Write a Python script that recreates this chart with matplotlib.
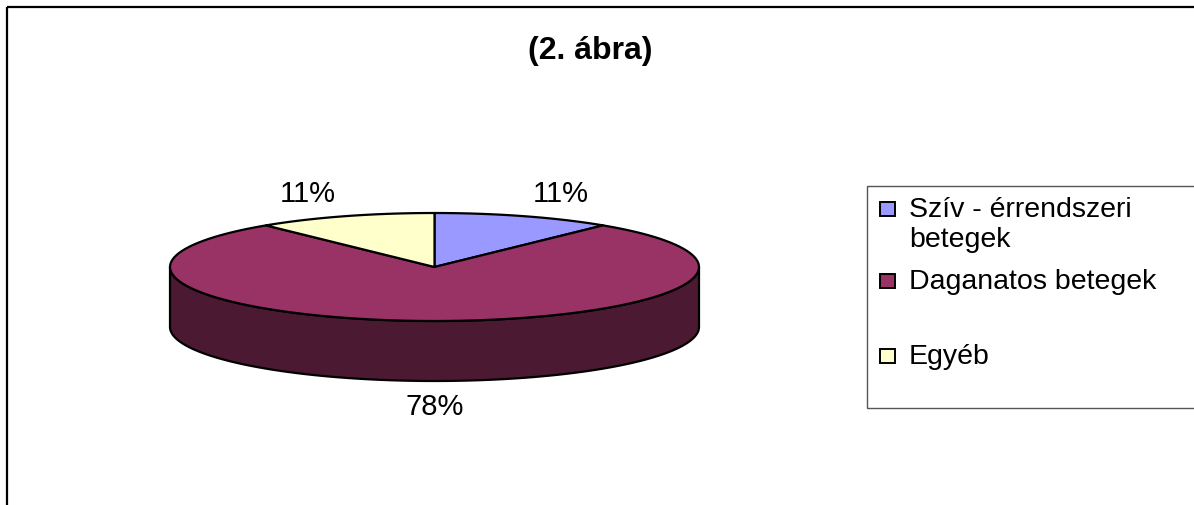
import numpy as np
import matplotlib
matplotlib.use("Agg")
import matplotlib.pyplot as plt
from matplotlib.patches import Polygon, Rectangle

plt.rcParams['font.family'] = ['Liberation Sans', 'DejaVu Sans']

# Adatok
kategoriak = ["Szív - érrendszeri\nbetegek", "Daganatos betegek", "Egyéb"]
aranyok = [11, 78, 11]
szazalek_cimkek = ["11%", "78%", "11%"]
szinek = ["#9999ff", "#993366", "#ffffcc"]
oldal_szinek = ["#4c4c80", "#4c1933", "#80806a"]
cim = "(2. ábra)"

# Geometria (pixel koordinatak)
cx, cy = 434.5, 268
rx, ry = 264.5, 54
melyseg = 60

fig = plt.figure(figsize=(11.94, 5.06), dpi=100)
ax = fig.add_axes([0, 0, 1, 1])
ax.set_xlim(0, 1194)
ax.set_ylim(506, 0)
ax.axis('off')


def ellipszis_pont(theta_deg, dy=0):
    t = np.radians(theta_deg)
    return cx + rx * np.cos(t), cy - ry * np.sin(t) + dy


def ives(t_a, t_b, dy=0, n=120):
    ts = np.linspace(t_a, t_b, n)
    xs, ys = ellipszis_pont(ts, dy)
    return np.column_stack([xs, ys])


# szeletek szogei (90 foktol, oramutato iranyaban)
osszes = sum(aranyok)
szeletek = []
kezdo = 90.0
for a in aranyok:
    veg = kezdo - 360.0 * a / osszes
    szeletek.append((veg, kezdo))
    kezdo = veg

# oldalfalak (csak az elulso felben latszik)
for (t_lo, t_hi), sz in zip(szeletek, oldal_szinek):
    for k in (-2, -1, 0, 1):
        lo = max(t_lo, -180 + 360 * k)
        hi = min(t_hi, 0 + 360 * k)
        if hi > lo:
            felso = ives(lo, hi)
            also = ives(hi, lo, dy=melyseg)
            ax.add_patch(Polygon(np.vstack([felso, also]), closed=True,
                                 facecolor=sz, edgecolor='black', lw=1.6,
                                 joinstyle='round'))

# tetolap
for (t_lo, t_hi), sz in zip(szeletek, szinek):
    pontok = np.vstack([[cx, cy], ives(t_lo, t_hi)])
    ax.add_patch(Polygon(pontok, closed=True, facecolor=sz,
                         edgecolor='black', lw=1.6, joinstyle='round'))

# szazalek cimkek
for (t_lo, t_hi), c in zip(szeletek, szazalek_cimkek):
    kozep = np.radians((t_lo + t_hi) / 2)
    x = cx + 1.41 * rx * np.cos(kozep)
    y = cy - 1.46 * ry * np.sin(kozep)
    if np.sin(kozep) < 0:
        y += melyseg
    ax.text(x, y, c, fontsize=21, ha='center', va='center')

# cim
ax.text(590, 51, cim, fontsize=23, fontweight='bold', ha='center', va='center')

# kulso keret
ax.add_patch(Rectangle((6.5, 7.5), 1300, 600, fill=False,
                       edgecolor='black', lw=1.6))

# jelmagyarazat
ax.add_patch(Rectangle((867, 187), 400, 222, fill=False,
                       edgecolor='#555555', lw=1.0))
leg_y = [210, 282, 357]
for kat, sz, y in zip(kategoriak, szinek, leg_y):
    ax.add_patch(Rectangle((880, y - 7), 15, 14, facecolor=sz,
                           edgecolor='black', lw=1.4))
    sorok = kat.split("\n")
    for i, s in enumerate(sorok):
        ax.text(909, y + 30 * i, s, fontsize=20.5, ha='left', va='center')

fig.savefig("out.png", dpi=100)
